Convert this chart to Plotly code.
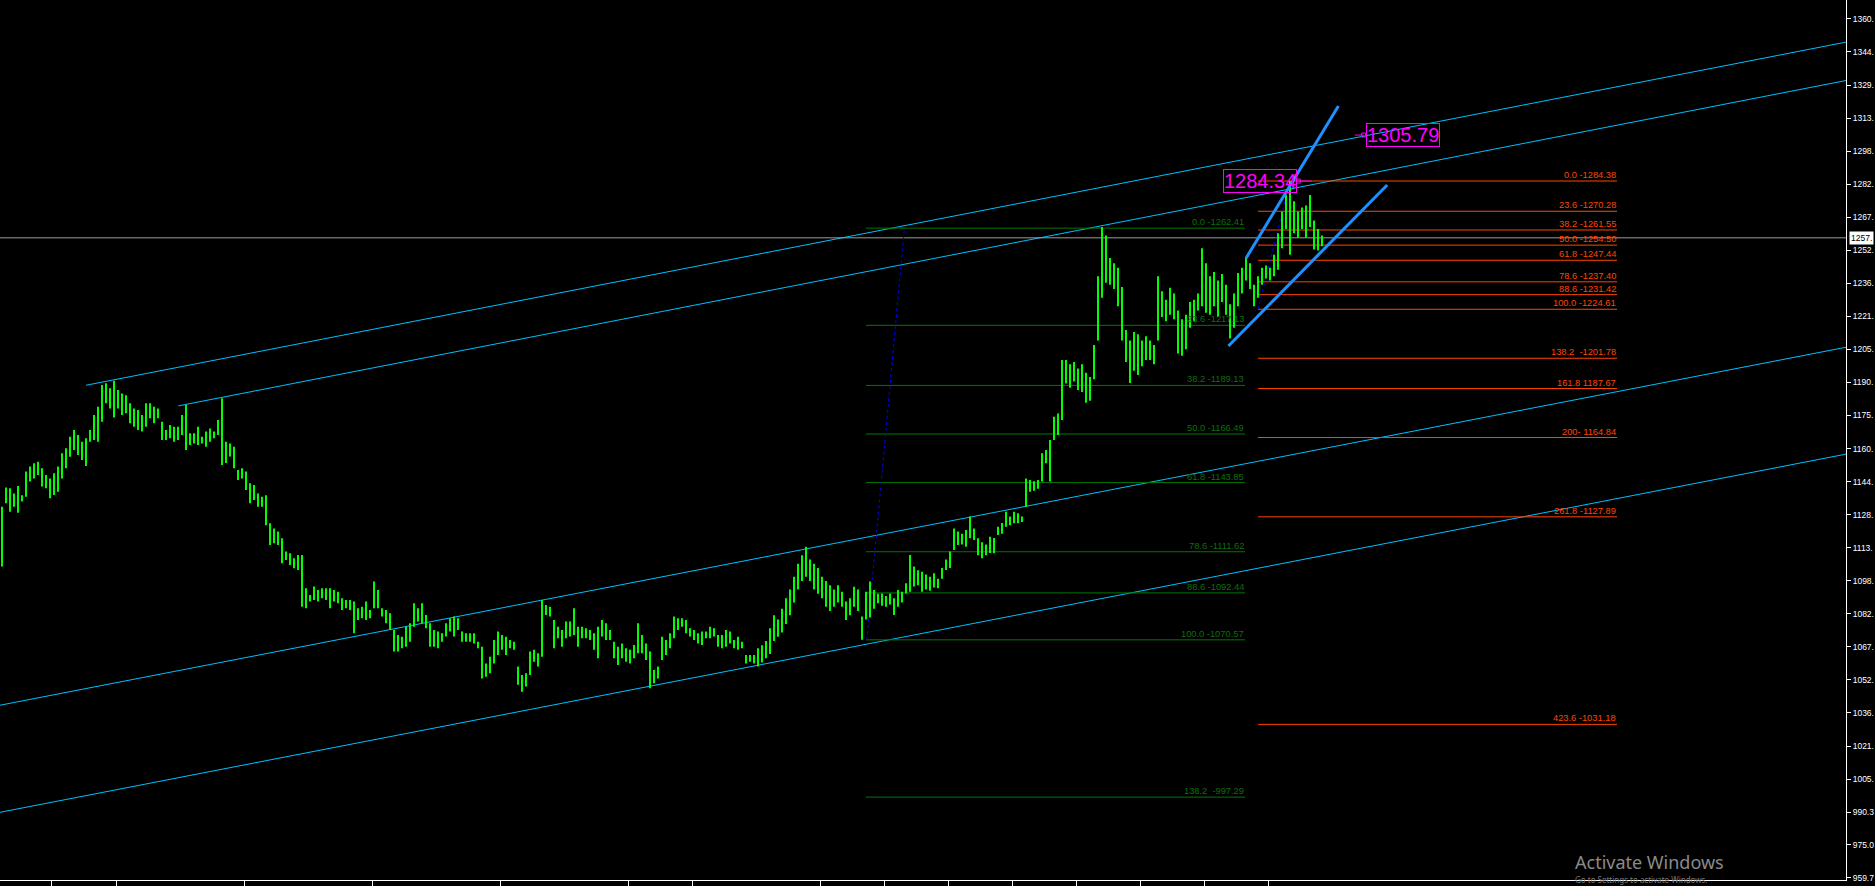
import plotly.graph_objects as go

# ---------------- data ----------------
bar_high = [
    1132.6, 1141.5, 1141.2, 1138.8, 1142.3, 1138.0, 1149.0, 1151.3, 1152.8, 1153.6,
    1150.5, 1147.4, 1145.8, 1148.2, 1151.3, 1157.5, 1159.8, 1165.2, 1168.4, 1166.0,
    1162.9, 1164.5, 1168.4, 1175.3, 1179.2, 1189.3, 1190.1, 1187.8, 1191.3, 1187.0,
    1185.4, 1184.6, 1180.8, 1178.4, 1177.7, 1175.3, 1180.8, 1180.8, 1179.2, 1178.4,
    1172.2, 1168.4, 1170.7, 1169.9, 1169.9, 1175.3, 1180.0, 1166.8, 1166.8, 1169.9,
    1165.2, 1167.6, 1169.1, 1167.6, 1173.0, 1183.1, 1162.9, 1162.1, 1160.6, 1149.7,
    1150.5, 1149.0, 1143.5, 1142.7, 1138.8, 1137.3, 1138.0, 1124.9, 1122.5, 1121.0,
    1117.9, 1111.7, 1110.9, 1108.6, 1110.1, 1110.1, 1094.6, 1091.5, 1095.4, 1093.8,
    1094.6, 1094.6, 1094.6, 1093.8, 1093.0, 1089.9, 1089.1, 1089.1, 1088.4, 1085.3,
    1086.0, 1088.4, 1084.5, 1097.7, 1093.8, 1085.3, 1084.5, 1083.0, 1075.2, 1072.8,
    1072.0, 1076.7, 1078.3, 1087.6, 1085.3, 1087.6, 1082.2, 1078.3, 1075.2, 1074.4,
    1073.6, 1078.3, 1080.6, 1081.4, 1080.6, 1074.4, 1073.6, 1073.6, 1073.6, 1069.7,
    1067.4, 1059.6, 1062.7, 1070.5, 1074.4, 1072.8, 1072.0, 1070.5, 1069.7, 1058.1,
    1054.2, 1055.0, 1065.1, 1065.9, 1064.3, 1089.1, 1086.8, 1086.0, 1079.8, 1076.7,
    1075.2, 1079.1, 1079.1, 1085.3, 1076.7, 1076.7, 1076.0, 1075.2, 1073.6, 1076.7,
    1079.8, 1078.3, 1075.2, 1069.7, 1067.4, 1068.9, 1066.6, 1065.9, 1068.2, 1078.3,
    1072.8, 1068.9, 1065.1, 1056.5, 1058.1, 1072.0, 1070.5, 1073.6, 1081.4, 1080.6,
    1080.6, 1079.8, 1076.0, 1075.2, 1073.6, 1074.4, 1074.4, 1076.7, 1076.0, 1072.8,
    1072.8, 1075.2, 1074.4, 1070.5, 1072.0, 1069.7, 1063.5, 1063.5, 1063.5, 1066.6,
    1068.0, 1070.0, 1076.0, 1082.0, 1080.0, 1085.0, 1090.0, 1094.0, 1100.0, 1106.0,
    1110.0, 1114.0, 1108.0, 1106.0, 1104.0, 1100.0, 1098.0, 1096.0, 1094.0, 1096.0,
    1093.0, 1088.4, 1090.0, 1095.3, 1094.0, 1081.4, 1093.0, 1097.7, 1093.8, 1092.0,
    1092.2, 1091.0, 1092.2, 1090.0, 1093.8, 1093.0, 1096.9, 1110.1, 1104.7, 1103.0,
    1102.3, 1101.0, 1100.0, 1101.6, 1099.0, 1104.0, 1108.0, 1111.7, 1122.5, 1121.0,
    1120.0, 1121.8, 1128.0, 1122.5, 1117.9, 1116.0, 1115.0, 1118.6, 1118.0, 1123.3,
    1125.0, 1130.3, 1128.0, 1130.3, 1129.5, 1128.0, 1145.8, 1145.0, 1144.5, 1145.0,
    1157.5, 1159.0, 1163.7, 1174.5, 1176.0, 1201.0, 1201.0, 1199.0, 1200.0, 1197.0,
    1199.0, 1195.0, 1193.0, 1208.0, 1240.0, 1262.9, 1259.0, 1248.5, 1246.0, 1244.0,
    1235.0, 1215.0, 1210.0, 1214.0, 1213.0, 1210.0, 1212.0, 1210.0, 1208.0, 1240.0,
    1233.0, 1229.0, 1234.6, 1232.0, 1224.0, 1220.0, 1222.0, 1228.0, 1229.0, 1232.0,
    1253.0, 1246.0, 1240.0, 1242.0, 1238.0, 1241.0, 1236.0, 1227.0, 1232.0, 1241.5,
    1244.0, 1248.5, 1246.0, 1236.0, 1240.0, 1244.0, 1245.0, 1244.0, 1250.0, 1260.0,
    1270.0, 1278.0, 1284.3, 1275.0, 1270.0, 1272.0, 1273.0, 1277.9, 1266.0, 1262.0,
    1259.0,
]
bar_low = [
    1104.7, 1134.2, 1130.3, 1132.6, 1129.8, 1135.0, 1137.3, 1144.3, 1145.8, 1147.4,
    1142.0, 1141.2, 1136.5, 1138.1, 1139.6, 1145.8, 1150.5, 1155.9, 1159.0, 1156.7,
    1154.4, 1151.6, 1162.9, 1163.7, 1162.9, 1172.2, 1180.8, 1178.4, 1174.2, 1178.4,
    1175.3, 1176.1, 1171.5, 1169.9, 1168.4, 1167.6, 1169.9, 1173.8, 1171.5, 1173.8,
    1163.7, 1163.7, 1164.5, 1162.9, 1163.7, 1166.0, 1159.0, 1161.4, 1162.1, 1161.4,
    1162.1, 1160.6, 1162.9, 1164.5, 1166.0, 1152.0, 1153.0, 1156.0, 1150.5, 1145.1,
    1145.8, 1140.4, 1134.2, 1135.7, 1132.6, 1132.6, 1124.0, 1114.8, 1115.6, 1114.8,
    1106.3, 1107.8, 1105.5, 1103.9, 1103.1, 1086.0, 1085.3, 1088.4, 1089.1, 1088.4,
    1090.0, 1089.1, 1085.3, 1088.4, 1087.6, 1084.5, 1085.3, 1084.5, 1073.6, 1079.8,
    1080.6, 1079.8, 1080.6, 1085.3, 1085.3, 1081.4, 1078.3, 1075.2, 1065.1, 1065.1,
    1066.6, 1067.4, 1069.7, 1076.7, 1079.1, 1078.3, 1076.0, 1067.4, 1067.4, 1066.6,
    1069.7, 1072.1, 1074.4, 1072.1, 1075.2, 1069.7, 1069.7, 1069.7, 1068.9, 1066.6,
    1052.6, 1053.4, 1055.0, 1059.6, 1063.5, 1065.9, 1063.5, 1066.6, 1065.9, 1049.6,
    1046.4, 1048.8, 1054.2, 1060.4, 1058.1, 1062.7, 1082.2, 1081.4, 1066.6, 1071.3,
    1067.4, 1071.3, 1072.1, 1072.8, 1067.4, 1071.3, 1071.3, 1070.5, 1065.9, 1062.0,
    1072.1, 1070.5, 1070.5, 1062.0, 1058.9, 1062.0, 1060.4, 1059.6, 1062.0, 1064.3,
    1064.3, 1061.2, 1048.0, 1050.3, 1052.6, 1061.2, 1063.5, 1066.6, 1071.3, 1075.2,
    1076.7, 1073.6, 1072.1, 1070.5, 1068.9, 1068.2, 1071.3, 1071.3, 1072.1, 1067.4,
    1066.6, 1067.4, 1068.9, 1066.6, 1065.9, 1066.6, 1059.6, 1060.4, 1059.6, 1058.1,
    1060.0, 1062.0, 1064.0, 1070.0, 1072.0, 1074.0, 1078.0, 1082.0, 1088.0, 1094.0,
    1098.0, 1100.0, 1098.0, 1094.0, 1092.0, 1090.0, 1086.0, 1084.0, 1086.0, 1088.0,
    1086.0, 1079.8, 1082.0, 1086.0, 1084.0, 1070.6, 1080.0, 1081.0, 1085.0, 1087.6,
    1086.5, 1086.0, 1087.0, 1082.1, 1086.0, 1088.0, 1092.2, 1093.0, 1095.4, 1096.0,
    1093.0, 1094.0, 1093.5, 1095.0, 1094.6, 1099.0, 1103.1, 1104.0, 1112.4, 1114.8,
    1115.0, 1114.0, 1117.9, 1117.1, 1110.0, 1108.6, 1110.0, 1111.0, 1110.9, 1119.4,
    1120.0, 1123.3, 1124.0, 1124.9, 1124.9, 1125.5, 1132.6, 1139.6, 1140.0, 1141.0,
    1144.3, 1152.8, 1144.3, 1163.7, 1166.0, 1173.0, 1190.0, 1188.0, 1191.0, 1187.0,
    1186.0, 1181.0, 1182.0, 1192.0, 1210.0, 1230.0, 1237.0, 1236.0, 1234.0, 1226.0,
    1210.0, 1200.0, 1190.2, 1196.0, 1194.0, 1198.0, 1201.0, 1201.0, 1199.0, 1210.0,
    1221.0, 1219.0, 1222.0, 1220.0, 1204.0, 1203.0, 1206.0, 1216.0, 1219.0, 1224.0,
    1226.0, 1223.0, 1222.0, 1226.0, 1221.0, 1228.0, 1222.0, 1211.0, 1216.0, 1226.0,
    1232.0, 1238.0, 1234.0, 1226.0, 1230.0, 1236.0, 1239.0, 1238.0, 1240.0, 1243.0,
    1253.0, 1262.0, 1250.0, 1260.0, 1258.0, 1262.0, 1258.0, 1263.0, 1252.5, 1252.0,
    1254.0,
]

green_levels = [1262.41, 1217.13, 1189.13, 1166.49, 1143.85, 1111.62, 1092.44, 1070.57, 997.29]
green_labels = ["0.0 -1262.41", "23.6 -1217.13", "38.2 -1189.13", "50.0 -1166.49",
                "61.8 -1143.85", "78.6 -1111.62", "88.6 -1092.44", "100.0 -1070.57",
                "138.2  -997.29"]
orange_levels = [1284.38, 1270.28, 1261.55, 1254.50, 1247.44, 1237.40, 1231.42, 1224.61,
                 1201.78, 1187.67, 1164.84, 1127.89, 1031.18]
orange_labels = ["0.0 -1284.38", "23.6 -1270.28", "38.2 -1261.55", "50.0 -1254.50",
                 "61.8 -1247.44", "78.6 -1237.40", "88.6 -1231.42", "100.0 -1224.61",
                 "138.2  -1201.78", "161.8 1187.67", "200- 1164.84", "261.8 -1127.89",
                 "423.6 -1031.18"]

green_fib_span = (216.0, 310.75)
orange_fib_span = (314.0, 403.75)

# trend lines as (bar0, price0, bar1, price1)
channel_lines = [
    (21.0, 1189.2, 461.0, 1349.1),
    (44.1, 1179.6, 461.0, 1331.2),
    (-0.5, 1040.1, 461.0, 1206.9),
    (-0.5, 990.2, 461.0, 1157.1),
]
wedge_lines = [
    (311.0, 1248.4, 334.1, 1319.3),
    (306.6, 1207.5, 346.3, 1282.5),
]
fib_anchor_lines = [
    (216.2, 1070.57, 225.6, 1262.41),
    (314.0, 1224.61, 322.0, 1284.38),
]

bid_price = 1257.9
price_tags = [("1284.34", 324.1, 1284.34), ("1305.79", 340.4, 1305.79)]

y_tick_vals = [959.7, 975.0, 990.3, 1005.7, 1021.1, 1036.5, 1051.9, 1067.3, 1082.7,
               1098.1, 1113.5, 1128.9, 1144.3, 1159.7, 1175.1, 1190.5, 1205.9, 1221.3,
               1236.7, 1252.1, 1267.5, 1282.9, 1298.3, 1313.7, 1329.1, 1344.5, 1359.9]
y_tick_text = ["959.7", "975.0", "990.3", "1005.", "1021.", "1036.", "1052.", "1067.",
               "1082.", "1098.", "1113.", "1128.", "1144.", "1160.", "1175.", "1190.",
               "1205.", "1221.", "1236.", "1252.", "1267.", "1282.", "1298.", "1313.",
               "1329.", "1344.", "1360."]
x_tick_vals = [12.35, 28.5, 60.5, 92.5, 124.5, 156.5, 172.5, 204.5, 220.5, 236.5,
               252.5, 268.5, 284.5, 300.5, 316.5]

X_RANGE = [-0.5, 461.0]
Y_RANGE = [958.66, 1368.72]

LBL_FONT = "Liberation Sans, Arial, sans-serif"

fig = go.Figure()


def seg_trace(segs, color, width, dash="solid"):
    xs, ys = [], []
    for x0, y0, x1, y1 in segs:
        xs += [x0, x1, None]
        ys += [y0, y1, None]
    return go.Scatter(x=xs, y=ys, mode="lines", line=dict(color=color, width=width, dash=dash),
                      hoverinfo="skip", showlegend=False)


# channel lines
fig.add_trace(seg_trace(channel_lines, "#00BFFF", 1))

# fib levels
fig.add_trace(seg_trace([(green_fib_span[0], p, green_fib_span[1], p) for p in green_levels],
                        "#007800", 1))
fig.add_trace(seg_trace([(orange_fib_span[0], p, orange_fib_span[1], p) for p in orange_levels],
                        "#FF4500", 1))

# bid line
fig.add_trace(seg_trace([(X_RANGE[0], bid_price, X_RANGE[1], bid_price)], "#9C9C9C", 1))

# fib anchor dotted lines
fig.add_trace(seg_trace(fib_anchor_lines, "#0000FF", 1, "dot"))

# price bars
bx, by = [], []
for i, (h, l) in enumerate(zip(bar_high, bar_low)):
    bx += [i, i, None]
    by += [l, h, None]
fig.add_trace(go.Scatter(x=bx, y=by, mode="lines", line=dict(color="#00FF00", width=2),
                         hoverinfo="skip", showlegend=False))

# wedge lines
fig.add_trace(seg_trace(wedge_lines, "#1E90FF", 3))

# price tag markers
fig.add_trace(seg_trace([(price_tags[0][1], price_tags[0][2], price_tags[0][1] + 3.4, price_tags[0][2]),
                         (price_tags[1][1] - 2.2, price_tags[1][2], price_tags[1][1], price_tags[1][2])],
                        "#FF00FF", 1))
fig.add_trace(go.Scatter(x=[t[1] for t in price_tags], y=[t[2] for t in price_tags], mode="markers",
                         marker=dict(symbol="square-open", size=4, color="#FF00FF",
                                     line=dict(width=1, color="#FF00FF")),
                         hoverinfo="skip", showlegend=False))

annotations = []
for p, t in zip(green_levels, green_labels):
    annotations.append(dict(x=green_fib_span[1], y=p, xref="x", yref="y", text=t, showarrow=False,
                            xanchor="right", yanchor="bottom", borderpad=0,
                            font=dict(family=LBL_FONT, size=9.3, color="#0E6E0E")))
for p, t in zip(orange_levels, orange_labels):
    annotations.append(dict(x=orange_fib_span[1], y=p, xref="x", yref="y", text=t, showarrow=False,
                            xanchor="right", yanchor="bottom", borderpad=0,
                            font=dict(family=LBL_FONT, size=9.3, color="#FF4500")))

# magenta price tags
annotations.append(dict(x=price_tags[0][1] - 0.4, y=price_tags[0][2], xref="x", yref="y",
                        text=price_tags[0][0], showarrow=False, xanchor="right", yanchor="middle",
                        bordercolor="#FF00FF", borderwidth=1, borderpad=0,
                        font=dict(family=LBL_FONT, size=20, color="#FF00FF")))
annotations.append(dict(x=price_tags[1][1] + 0.5, y=price_tags[1][2], xref="x", yref="y",
                        text=price_tags[1][0], showarrow=False, xanchor="left", yanchor="middle",
                        bordercolor="#FF00FF", borderwidth=1, borderpad=0,
                        font=dict(family=LBL_FONT, size=20, color="#FF00FF")))

# bid price label on axis
annotations.append(dict(x=1, y=bid_price, xref="paper", yref="y", text="1257.", showarrow=False,
                        xanchor="left", yanchor="middle", xshift=3, bgcolor="#FFFFFF", borderpad=1,
                        font=dict(family=LBL_FONT, size=8.5, color="#000000")))

# windows watermark
annotations.append(dict(x=1574 / 1846, y=(880 - 862) / 880, xref="paper", yref="paper",
                        text="Activate Windows", showarrow=False, xanchor="left", yanchor="middle",
                        borderpad=0,
                        font=dict(family="Noto Sans, Open Sans, sans-serif", size=18, color="#8A8A8A")))
annotations.append(dict(x=1574 / 1846, y=(880 - 886) / 880, xref="paper", yref="paper",
                        text="Go to Settings to activate Windows.", showarrow=False, xanchor="left",
                        yanchor="bottom", borderpad=0,
                        font=dict(family="Noto Sans, Open Sans, sans-serif", size=8, color="#7A7A7A")))

fig.update_layout(
    width=1875, height=886,
    margin=dict(l=0, r=29, t=0, b=6, pad=0),
    paper_bgcolor="#000000", plot_bgcolor="#000000",
    showlegend=False,
    annotations=annotations,
    xaxis=dict(range=X_RANGE, showgrid=False, zeroline=False, showline=True, linecolor="#FFFFFF",
               linewidth=1, ticks="outside", ticklen=6, tickcolor="#FFFFFF", tickwidth=1,
               tickvals=x_tick_vals, ticktext=[""] * len(x_tick_vals), fixedrange=True),
    yaxis=dict(range=Y_RANGE, side="right", showgrid=False, zeroline=False, showline=True,
               linecolor="#FFFFFF", linewidth=1, ticks="outside", ticklen=4, tickcolor="#FFFFFF",
               tickwidth=1, tickvals=y_tick_vals, ticktext=y_tick_text,
               tickfont=dict(family=LBL_FONT, size=8.5, color="#FFFFFF"), fixedrange=True),
)

fig.write_html("out.html", config={"displayModeBar": False, "staticPlot": True},
               post_script="document.body.style.margin='0';document.body.style.overflow='hidden';")
